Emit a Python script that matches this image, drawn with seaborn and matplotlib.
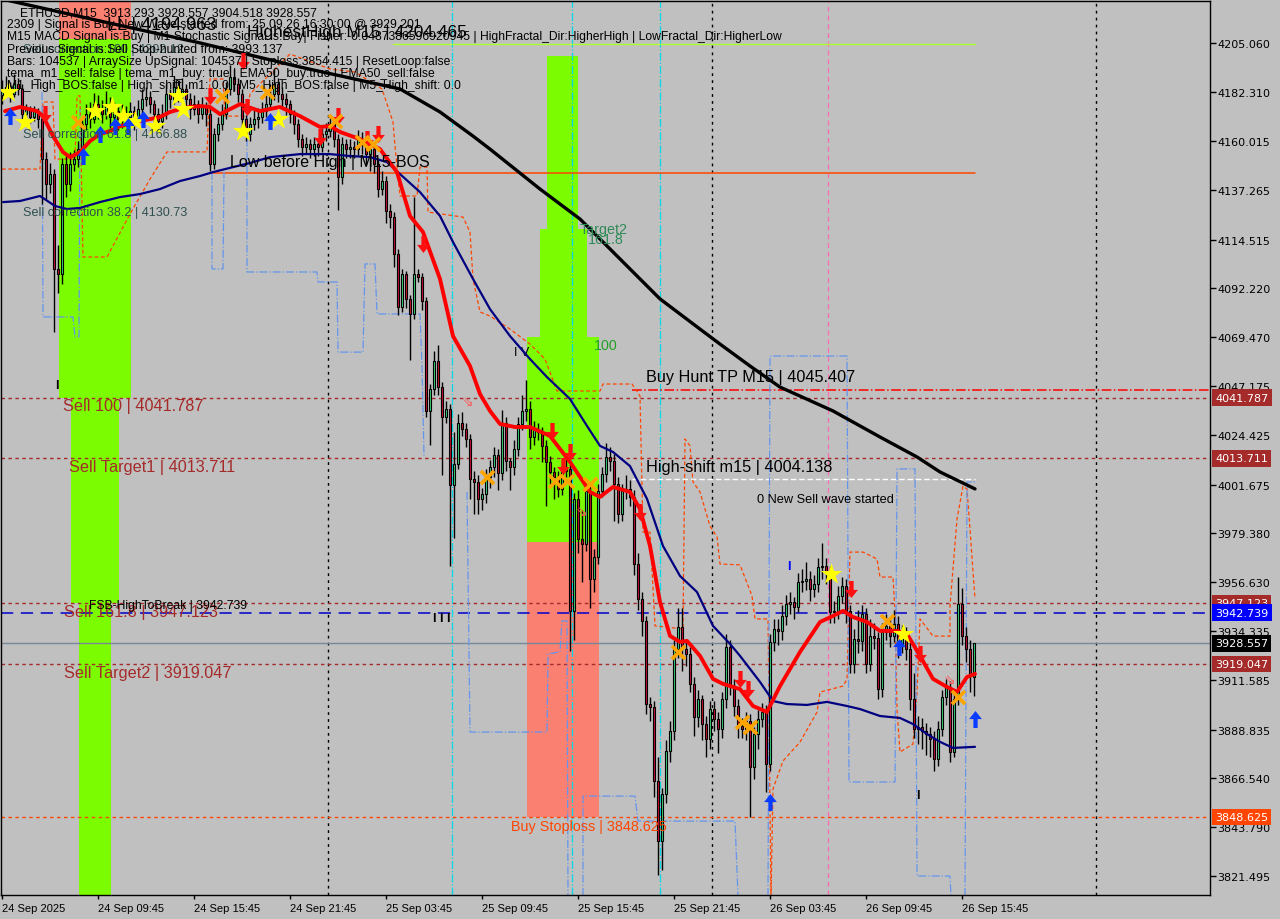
import numpy as np
import pandas as pd
import matplotlib
matplotlib.use("Agg")
import matplotlib.pyplot as plt
import matplotlib.transforms as mtrans
from matplotlib.patches import Rectangle
from matplotlib.path import Path
import seaborn as sns

# ---------------- data ----------------
first_open = 4181.0
last_open = 3913.293

close = [
 4183.9, 4184.8, 4181.6, 4186.2, 4183.9, 4172.3, 4174.6, 4171.0, 4173.7, 4170.0,
 4151.6, 4140.1, 4144.7, 4101.0, 4098.7, 4149.3, 4140.1, 4149.3, 4151.6, 4156.2,
 4167.7, 4172.3, 4170.0, 4176.9, 4174.6, 4172.3, 4176.9, 4171.0, 4173.7, 4170.0,
 4172.3, 4171.0, 4173.7, 4170.0, 4174.6, 4179.3, 4180.2, 4176.9, 4172.3, 4169.1,
 4172.3, 4181.6, 4179.3, 4184.8, 4181.6, 4183.9, 4179.3, 4174.6, 4176.9, 4172.3,
 4175.6, 4172.3, 4149.3, 4163.1, 4167.7, 4172.3, 4183.9, 4189.4, 4186.2, 4181.6,
 4170.0, 4163.1, 4167.7, 4170.0, 4171.0, 4173.7, 4176.9, 4181.6, 4186.2, 4181.6,
 4179.3, 4176.9, 4172.3, 4167.7, 4160.8, 4157.1, 4158.5, 4156.2, 4158.5, 4157.1,
 4163.1, 4164.5, 4167.7, 4160.8, 4143.3, 4158.5, 4156.2, 4157.1, 4156.2, 4160.8,
 4158.5, 4153.9, 4156.2, 4149.3, 4137.8, 4141.5, 4127.7, 4124.9, 4107.9, 4083.5,
 4098.7, 4087.2, 4080.2, 4098.7, 4097.5, 4086.2, 4035.6, 4045.7, 4058.6, 4046.6,
 4032.8, 4036.5, 4001.5, 4011.2, 4030.1, 4027.3, 4022.7, 4004.3, 4002.9, 3995.1,
 3997.3, 4005.2, 4009.8, 4015.3, 4007.0, 4030.1, 4012.5, 4009.8, 4018.1, 4029.6,
 4035.6, 4036.5, 4023.6, 4027.3, 4025.9, 4019.5, 4012.1, 4007.5, 4005.2, 3999.7,
 4007.9, 4008.9, 3943.5, 3995.1, 3976.6, 3974.3, 3998.7, 3958.2, 3968.3, 3998.7,
 4006.6, 4014.4, 4012.5, 4002.0, 3988.1, 3998.7, 3999.7, 3996.0, 3965.1, 3949.0,
 3938.9, 3900.6, 3899.3, 3865.2, 3837.6, 3859.2, 3879.0, 3888.2, 3926.0, 3936.1,
 3926.0, 3923.7, 3909.9, 3894.7, 3903.0, 3891.4, 3884.5, 3898.3, 3893.7, 3889.1,
 3903.0, 3926.9, 3908.9, 3899.7, 3890.5, 3889.1, 3892.8, 3871.6, 3886.8, 3893.7,
 3897.0, 3873.0, 3929.2, 3935.2, 3934.3, 3941.2, 3946.7, 3947.6, 3945.3, 3956.8,
 3957.3, 3958.2, 3953.6, 3955.9, 3963.7, 3964.2, 3961.4, 3943.0, 3943.5, 3950.4,
 3955.0, 3943.5, 3919.1, 3930.6, 3929.5, 3942.1, 3919.1, 3932.0, 3931.0, 3907.5,
 3933.8, 3936.6, 3932.0, 3937.5, 3927.4, 3932.9, 3926.0, 3903.0, 3889.1, 3890.0,
 3888.2, 3886.8, 3884.5, 3875.3, 3889.1, 3903.9, 3908.5, 3878.5, 3903.0, 3946.7,
 3932.0, 3926.0, 3913.5, 3928.557]

high = [
 4188, 4190, 4187, 4191, 4189, 4186, 4177, 4176, 4176, 4175,
 4172, 4155, 4150, 4147, 4112, 4152, 4153, 4155, 4156, 4160,
 4171, 4177, 4178, 4182, 4181, 4179, 4183, 4180, 4178, 4176,
 4177, 4176, 4178, 4176, 4179, 4184, 4185, 4183, 4179, 4175,
 4177, 4186, 4184, 4190, 4188, 4189, 4186, 4182, 4181, 4179,
 4180, 4178, 4175, 4166, 4171, 4177, 4187, 4195, 4193, 4189,
 4184, 4172, 4171, 4174, 4175, 4178, 4181, 4186, 4193, 4189,
 4185, 4182, 4179, 4174, 4170, 4163, 4162, 4161, 4162, 4161,
 4166, 4168, 4172, 4170, 4163, 4162, 4161, 4161, 4160, 4165,
 4164, 4162, 4160, 4159, 4152, 4146, 4144, 4131, 4127, 4110,
 4101, 4100, 4089, 4134, 4101, 4099, 4088, 4048, 4063, 4066,
 4049, 4040, 4039, 4026, 4034, 4035, 4030, 4025, 4008, 4006,
 4000, 4009, 4013, 4019, 4018, 4036, 4033, 4014, 4022, 4033,
 4043, 4050, 4040, 4031, 4030, 4028, 4022, 4015, 4010, 4008,
 4012, 4014, 4011, 3998, 3999, 3990, 4002, 4001, 3972, 4002,
 4010, 4021, 4019, 4016, 4005, 4002, 4006, 4004, 3999, 3970,
 3952, 3941, 3904, 3902, 3876, 3862, 3884, 3893, 3930, 3945,
 3945, 3929, 3927, 3913, 3907, 3905, 3895, 3902, 3902, 3897,
 3906, 3933, 3930, 3912, 3903, 3894, 3897, 3896, 3890, 3898,
 3901, 3900, 3933, 3940, 3940, 3946, 3951, 3952, 3950, 3961,
 3963, 3966, 3962, 3960, 3968, 3975, 3968, 3964, 3948, 3955,
 3959, 3958, 3946, 3935, 3944, 3946, 3945, 3940, 3938, 3934,
 3938, 3942, 3940, 3944, 3941, 3937, 3936, 3929, 3915, 3895,
 3894, 3892, 3890, 3888, 3893, 3907, 3912, 3911, 3906, 3959,
 3954, 3936, 3930, 3928.557]

low = [
 4177, 4181, 4178, 4180, 4181, 4169, 4170, 4168, 4169, 4166,
 4131, 4133, 4136, 4072, 4090, 4094, 4134, 4137, 4146, 4148,
 4154, 4165, 4166, 4168, 4170, 4168, 4170, 4166, 4167, 4165,
 4166, 4167, 4168, 4165, 4167, 4172, 4176, 4173, 4168, 4165,
 4166, 4170, 4175, 4177, 4178, 4179, 4175, 4170, 4172, 4168,
 4170, 4167, 4146, 4147, 4160, 4165, 4170, 4181, 4183, 4178,
 4165, 4160, 4160, 4165, 4166, 4168, 4171, 4175, 4179, 4178,
 4175, 4172, 4168, 4163, 4157, 4153, 4154, 4152, 4153, 4153,
 4155, 4160, 4162, 4157, 4128, 4140, 4152, 4152, 4152, 4153,
 4154, 4149, 4146, 4145, 4134, 4135, 4122, 4120, 4102, 4080,
 4081, 4083, 4059, 4078, 4095, 4082, 4033, 4020, 4043, 4043,
 4006, 4030, 3964, 3977, 4009, 4024, 4019, 3995, 3988, 3988,
 3990, 3993, 4000, 4005, 3999, 4004, 4008, 3999, 4006, 4015,
 4027, 4031, 4018, 4020, 4022, 4012, 3992, 4002, 3995, 3996,
 3997, 4005, 3925, 3930, 3970, 3957, 3971, 3945, 3952, 3965,
 3996, 4003, 4008, 3985, 3984, 3985, 3995, 3992, 3960, 3944,
 3932, 3896, 3893, 3858, 3822, 3824, 3855, 3874, 3884, 3922,
 3916, 3918, 3906, 3886, 3890, 3884, 3876, 3880, 3888, 3878,
 3885, 3899, 3905, 3895, 3885, 3885, 3884, 3848.6, 3866, 3880,
 3890, 3860, 3870, 3925, 3928, 3930, 3937, 3942, 3940, 3943,
 3952, 3953, 3948, 3950, 3952, 3958, 3956, 3938, 3938, 3940,
 3947, 3938, 3915, 3915, 3924, 3925, 3915, 3916, 3926, 3903,
 3904, 3930, 3927, 3929, 3922, 3924, 3921, 3898, 3885, 3882,
 3880, 3877, 3876, 3870, 3872, 3886, 3900, 3874, 3876, 3900,
 3928, 3920, 3906, 3904.518]

time_labels = ["24 Sep 2025", "24 Sep 09:45", "24 Sep 15:45", "24 Sep 21:45",
               "25 Sep 03:45", "25 Sep 09:45", "25 Sep 15:45", "25 Sep 21:45",
               "26 Sep 03:45", "26 Sep 09:45", "26 Sep 15:45"]
time_label_bars = [0, 24, 48, 72, 96, 120, 144, 168, 192, 216, 240]

price_ticks = [4205.060, 4182.310, 4160.015, 4137.265, 4114.515, 4092.220, 4069.470,
               4047.175, 4024.425, 4001.675, 3979.380, 3956.630, 3934.335, 3911.585,
               3888.835, 3866.540, 3843.790, 3821.495]

# indicator lines (bar index, price)
ema_fast = [(0.75, 4173.7), (4.5, 4175.6), (8.75, 4173.7), (10.25, 4171.4), (12.75, 4162.2),
            (15.25, 4154.8), (17, 4152.5), (19.5, 4154.8), (22, 4159.9), (24.5, 4163.1),
            (27, 4164.5), (29.5, 4166.8), (32, 4167.7), (34.5, 4169.1), (37, 4170.0),
            (39.5, 4171.0), (42, 4173.3), (44.5, 4174.6), (47, 4175.6), (49.5, 4176.0),
            (52, 4175.6), (54.5, 4172.3), (57, 4174.6), (59.5, 4176.9), (64.5, 4173.7),
            (69.5, 4175.6), (74.5, 4171.4), (79.5, 4166.4), (82, 4166.8), (84.5, 4164.1),
            (89.5, 4160.8), (94.5, 4156.2), (98.75, 4145.6), (102, 4125.4), (105.25, 4118.0),
            (109.5, 4096.4), (112.75, 4070.1), (117, 4056.3), (119.5, 4043.4), (122, 4035.6),
            (124.5, 4029.6), (128.25, 4028.2), (132, 4028.2), (137, 4024.1), (142, 4012.1),
            (147, 3998.3), (149.5, 3996.0), (152.75, 4000.6), (157, 3998.3), (159.5, 3990.5),
            (162, 3973.4), (164.5, 3947.6), (167, 3932.0), (169.5, 3929.2), (171.25, 3929.7),
            (174.5, 3922.8), (177.75, 3912.2), (180.25, 3909.9), (184.5, 3907.5), (187.75, 3899.7),
            (191.25, 3897.0), (194.5, 3908.9), (199.5, 3924.6), (204.5, 3938.4), (207.75, 3941.2),
            (210.25, 3943.5), (212.75, 3940.7), (216.25, 3938.4), (219.5, 3934.3), (223.75, 3934.3),
            (226.25, 3932.9), (229.5, 3922.8), (232.75, 3912.2), (236.25, 3908.5), (238.75, 3906.2),
            (241.25, 3913.1), (243.25, 3914.5)]

ema50 = [(0.25, 4131.8), (4.5, 4132.3), (9.5, 4134.6), (13.25, 4130.0), (16.25, 4128.6),
         (19.5, 4129.1), (24.5, 4131.8), (29.5, 4134.1), (34.5, 4135.5), (39.5, 4137.8),
         (44.5, 4141.5), (49.5, 4143.8), (52.75, 4145.6), (57.75, 4147.9), (62, 4149.8),
         (67, 4152.5), (74.5, 4153.9), (82, 4153.9), (87, 4153.0), (92, 4152.5),
         (96.25, 4150.2), (99.5, 4144.7), (104.5, 4136.4), (109.5, 4125.4), (112.75, 4113.4),
         (117.75, 4096.4), (122, 4082.5), (127, 4070.1), (132, 4059.5), (136.25, 4051.2),
         (142, 4041.1), (146.25, 4028.7), (149.5, 4019.5), (152.75, 4016.7), (157, 4010.2),
         (161.25, 3995.1), (165.25, 3973.4), (169.5, 3959.6), (173.75, 3952.2), (177.75, 3936.6),
         (182, 3928.3), (184.5, 3922.8), (189.5, 3910.8), (192.75, 3902.0), (196.25, 3900.6),
         (201.25, 3900.2), (206.25, 3901.6), (211.25, 3899.7), (214.5, 3898.3), (219.5, 3895.1),
         (224.5, 3894.2), (227.75, 3891.4), (231.25, 3886.8), (234.5, 3883.2), (237.75, 3880.4),
         (243.25, 3880.9)]

ema200 = [(0, 4225.3), (24.5, 4215.2), (49.5, 4205.1), (74.5, 4194.0), (99.5, 4183.9),
          (109.5, 4173.3), (117.75, 4162.2), (122, 4156.2), (134.5, 4137.8), (144.5, 4124.0),
          (154.5, 4105.6), (164.5, 4087.2), (174.5, 4073.3), (179.5, 4066.4), (187, 4056.3),
          (194.5, 4046.6), (207.75, 4035.6), (219.5, 4023.6), (228.75, 4014.4), (234.5, 4007.5),
          (243.25, 3999.7)]

fractal_high = [(0, 4147.0), (9.5, 4147.0), (10.25, 4177.9), (12.75, 4177.9), (13.25, 4151.6),
                (18.25, 4151.6), (18.75, 4180.7), (19.5, 4180.7), (20.25, 4106.5), (26.25, 4106.5),
                (32, 4126.3), (37, 4142.4), (41.25, 4154.9), (51.25, 4154.9), (52, 4188.5),
                (55.25, 4188.5), (55.75, 4171.4), (61.25, 4171.4), (62, 4181.6), (72, 4200.0),
                (82, 4193.1), (88.25, 4191.7), (95, 4183.9), (97.75, 4168.7), (98.25, 4157.6),
                (99.5, 4134.6), (103.75, 4134.6), (104.5, 4147.9), (106.25, 4147.9), (106.5, 4127.2),
                (115.25, 4124.9), (117, 4118.0), (117.75, 4096.4), (119.5, 4081.2), (122, 4079.3),
                (127, 4073.3), (132, 4066.4), (135.75, 4059.5), (138.75, 4044.8), (149.5, 4044.8),
                (150.25, 4048.0), (157.5, 4048.0), (159.5, 4042.5), (160.25, 3979.8), (162, 3979.8),
                (163.25, 3936.6), (170.25, 3935.2), (170.75, 4022.7), (172, 4019.5), (172.75, 4002.9),
                (174.5, 3998.3), (177, 3982.6), (178.75, 3977.6), (179.5, 3965.1), (184.5, 3964.7),
                (187.5, 3950.4), (188.25, 3939.8), (191.5, 3939.8), (192.25, 3812.2), (192.75, 3861.5),
                (195.25, 3874.4), (199.5, 3883.1), (203.75, 3896.9), (204.5, 3906.1), (210.25, 3908.9),
                (211.25, 3912.1), (212, 3970.6), (215.25, 3970.6), (218.75, 3967.4), (219.5, 3959.1),
                (222.75, 3959.1), (223.25, 3943.0), (223.75, 3898.3), (224.5, 3878.5), (227.75, 3882.2),
                (228.75, 3906.1), (229.5, 3939.8), (232.75, 3931.9), (237, 3931.9), (237, 3945.8),
                (238.75, 3985.8), (240.25, 4001.0), (241.25, 3999.6), (242, 3981.2), (243.25, 3949.0)]

fractal_low_segments = [
    [(10, 4182.5), (10.25, 4078.9), (17.75, 4078.9), (18.25, 4069.7), (19.25, 4069.7), (19.5, 4174.7)],
    [(52.5, 4145.7), (52.5, 4101.0), (55.25, 4101.0), (55.5, 4145.7)],
    [(61.25, 4179.3), (61.25, 4099.6), (78.75, 4099.6), (79, 4095.0), (83.75, 4095.0), (84, 4062.7),
     (90.25, 4062.7), (90.75, 4103.3), (93.25, 4103.3), (93.75, 4080.3), (104.5, 4080.3),
     (105, 4056.3), (105.5, 4014.8)],
    [(116.25, 3998.3), (117, 3887.7), (136.25, 3887.7), (136.5, 3923.7), (139.5, 3924.6),
     (140, 3938.9), (141.25, 3938.9), (141.5, 3812.2)],
    [(145.25, 3812.2), (145.25, 3858.2), (158.25, 3858.2), (159, 3846.7), (183.25, 3846.7), (184, 3812.2)],
    [(191.5, 3812.2), (192, 4060.9), (211.25, 4060.9), (211.75, 3864.7), (223.25, 3864.7),
     (223.75, 4008.9), (228.25, 4008.9), (228.75, 3821.4), (237, 3821.4), (237.25, 3812.2)],
    [(240.75, 3812.2), (241.25, 4002.9), (243.25, 4002.9)],
]

# signal markers
star_i = [1.5, 5.75, 23.25, 27.5, 30.25, 33.25, 38.25, 44, 45.25, 60.25, 69, 207.25, 225.25]
star_p = [4182.5, 4168.7, 4173.7, 4175.6, 4171.4, 4169.1, 4166.8, 4180.6, 4174.6, 4164.5,
          4170.0, 3960.5, 3932.9]
buy_arrow_i = [2, 20.25, 24.5, 28.25, 31.5, 35.25, 67, 192, 224.25, 243.25]
buy_arrow_p = [4171.4, 4153.0, 4163.1, 4166.8, 4166.8, 4170.0, 4169.1, 3855.5, 3926.9, 3893.7]
sell_arrow_i = [10.75, 52, 60.25, 61.25, 79.5, 84, 91.25, 94, 105.25, 137.5, 140.25, 142,
                159.5, 184.5, 186.5, 212.25, 229.5]
sell_arrow_p = [4172.4, 4180.6, 4196.8, 4175.6, 4161.8, 4171.4, 4160.8, 4163.1, 4112.5, 4026.4,
                4010.2, 4016.7, 3989.1, 3912.1, 3907.5, 3953.6, 3923.7]
cross_i = [19, 55, 66.25, 83.25, 90, 92.75, 121.25, 138.25, 141.25, 147, 169, 185, 187, 221.25, 239]
cross_p = [4168.7, 4180.6, 4182.5, 4169.1, 4159.5, 4158.5, 4005.2, 4003.3, 4003.3, 4002.0,
           3924.6, 3892.3, 3890.0, 3938.9, 3903.9]
hollow_i = [116.5, 145, 237]
hollow_p = [4040.2, 3989.5, 3912.1]

# zones (bar from, bar to, price low, price high, colour)
zone_x0 = [14.25, 14.25, 17.25, 19.25, 136.25, 134.5, 131.25, 131.25]
zone_x1 = [32.25, 32.25, 29.25, 27.25, 144.0, 146.25, 149.25, 149.25]
zone_lo = [4206.9, 4041.787, 3947.123, 3800.0, 4119.4, 4069.7, 3975.2, 3848.625]
zone_hi = [4240.0, 4206.9, 4041.787, 3947.123, 4199.1, 4119.4, 4069.7, 3975.2]
zone_col = ["#fa8072", "#7cfc00", "#7cfc00", "#7cfc00", "#7cfc00", "#7cfc00", "#7cfc00", "#fa8072"]

# levels
sell_levels = [4041.787, 4013.711, 3947.123, 3919.047]
sell_names = ["Sell 100", "Sell Target1", "Sell 161.8", "Sell Target2"]
fsb_level = 3942.739
current_price = 3928.557
buy_stoploss = 3848.625
buy_hunt_tp = 4045.407
high_shift = 4004.138
low_before_high = 4145.0
highest_high = 4204.465
ll_value = 4194.963

sep_bars = [81.5, 177.5, 273.5]
cyan_bars = [112.5, 142.5, 164.5]
pink_bars = [206.5]

# ---------------- figure ----------------
BG = "#c0c0c0"
W, H = 1280, 920
sns.set_theme(style="white")
plt.rcParams["font.family"] = ["Liberation Sans", "DejaVu Sans"]

fig = plt.figure(figsize=(12.8, 9.2), dpi=100, facecolor=BG)
ax = fig.add_axes([1 / W, (920 - 896) / H, (1210 - 1) / W, (896 - 2) / H])
ax.set_facecolor(BG)
ax.set_xlim(-0.25, 302)
ax.set_ylim(3812.66, 4224.41)

def ptxt(x, y, s, **kw):
    kw.setdefault("va", "center")
    kw.setdefault("ha", "left")
    fig.text(x / W, 1 - y / H, s, **kw)

# zones
for x0, x1, lo, hi, c in zip(zone_x0, zone_x1, zone_lo, zone_hi, zone_col):
    ax.add_patch(Rectangle((x0, lo), x1 - x0, hi - lo, facecolor=c, edgecolor="none", zorder=0.5))

# vertical lines
for b in sep_bars:
    ax.axvline(b, color="black", lw=1, ls=(0, (2, 3)), zorder=1)
for b in cyan_bars:
    ax.axvline(b, color="#00d8e8", lw=0.9, ls="-.", zorder=1)
for b in pink_bars:
    ax.axvline(b, color="#ff6eb4", lw=0.9, ls=(0, (4, 3)), zorder=1)

# horizontal levels
for lv in sell_levels:
    ax.axhline(lv, color="#a52a2a", lw=1, ls=(0, (2.5, 2.5)), zorder=1.2)
ax.axhline(fsb_level, color="#0000cd", lw=1.1, ls=(0, (8, 5)), zorder=1.2)
ax.axhline(current_price, color="#778899", lw=1, zorder=1.2)
ax.axhline(buy_stoploss, color="#ff4500", lw=1, ls=(0, (2.5, 2.5)), zorder=1.2)
ax.plot([157.5, 302], [buy_hunt_tp, buy_hunt_tp], color="#ff0000", lw=1.1, ls="-.", zorder=1.2)
ax.plot([52.5, 243.25], [low_before_high] * 2, color="#ff4500", lw=1.1, zorder=1.2)
ax.plot([157.5, 243.25], [high_shift] * 2, color="white", lw=1, ls=(0, (4, 2)), zorder=1.2)
ax.plot([97.75, 243.25], [highest_high] * 2, color="#adff2f", lw=1, zorder=1.2)

# fractal channel lines
fh = pd.DataFrame(fractal_high, columns=["bar", "price"])
ax.plot(fh["bar"], fh["price"], color="#ff4500", lw=0.9, ls=(0, (3, 2)), zorder=2)
for seg in fractal_low_segments:
    s = pd.DataFrame(seg, columns=["bar", "price"])
    ax.plot(s["bar"], s["price"], color="#6495ed", lw=0.9, ls="-.", zorder=2)

# candles
c = np.array(close, dtype=float)
o = np.concatenate([[first_open], c[:-1]])
o[-1] = last_open
hi_ = np.array(high, dtype=float)
lo_ = np.array(low, dtype=float)
idx = np.arange(len(c))
ax.vlines(idx, lo_, hi_, colors="black", lw=1, zorder=3)
body_bottom = np.minimum(o, c)
body_h = np.maximum(np.abs(c - o), 0.35)
cols = np.where(c >= o, "#3cd47a", "#c8102e")
ax.bar(idx, body_h, bottom=body_bottom, width=0.72, color=cols, edgecolor="black",
       linewidth=0.8, zorder=4)

# moving averages via seaborn
for pts, col, lw in [(ema200, "black", 2.4), (ema50, "#000080", 1.6), (ema_fast, "#ff0000", 2.8)]:
    d = pd.DataFrame(pts, columns=["bar", "price"])
    sns.lineplot(data=d, x="bar", y="price", color=col, lw=lw, ax=ax, sort=False,
                 estimator=None, zorder=6)

# markers
up_path = Path([(0, 1), (-0.75, 0.05), (-0.25, 0.05), (-0.25, -1), (0.25, -1), (0.25, 0.05),
                (0.75, 0.05), (0, 1)], closed=True)
down_path = Path([(0, -1), (-0.75, -0.05), (-0.25, -0.05), (-0.25, 1), (0.25, 1), (0.25, -0.05),
                  (0.75, -0.05), (0, -1)], closed=True)
sns.scatterplot(x=star_i, y=star_p, marker="*", s=260, color="#ffff00", linewidth=0, ax=ax, zorder=8)
sns.scatterplot(x=buy_arrow_i, y=buy_arrow_p, marker=up_path, s=150, color="#0a3cff",
                linewidth=0, ax=ax, zorder=8)
sns.scatterplot(x=sell_arrow_i, y=sell_arrow_p, marker=down_path, s=150, color="#ff1010",
                linewidth=0, ax=ax, zorder=8)
ax.scatter(cross_i, cross_p, marker="x", s=90, c="#ffa500", linewidths=2.6, zorder=8)
for i, p in zip(hollow_i, hollow_p):
    ax.text(i, p, "\u21d8", color="#ff5a5a", fontsize=10, ha="center", va="center",
            family="DejaVu Sans", zorder=8)

# small glyph signals
ax.text(13.75, 4047.5, "I", fontsize=9, color="black", weight="bold", ha="center", va="center")
ax.text(110.0, 3940.3, "I I I", fontsize=9, color="black", weight="bold", ha="center", va="center")
ax.text(130.0, 4062.7, "I V", fontsize=9, color="black", ha="center", va="center")
ax.text(196.75, 3964.2, "I", fontsize=9, color="#0000ff", weight="bold", ha="center", va="center")
ax.text(229.0, 3858.7, "I", fontsize=9, color="black", weight="bold", ha="center", va="center")

# axes styling
for sp in ax.spines.values():
    sp.set_color("black")
    sp.set_linewidth(1)
ax.yaxis.tick_right()
ax.set_yticks(price_ticks)
ax.set_yticklabels([f"{v:.3f}" for v in price_ticks], family="DejaVu Sans")
ax.set_xticks(time_label_bars)
ax.set_xticklabels(time_labels, ha="left")
ax.tick_params(axis="y", right=True, left=False, length=4, width=1, pad=1.5, labelsize=8,
               colors="black")
ax.tick_params(axis="x", bottom=True, length=3, width=1, pad=3, labelsize=8, colors="black")
ax.set_xlabel("")
ax.set_ylabel("")
ax.grid(False)

# coloured price boxes on the right axis
trans = mtrans.blended_transform_factory(ax.transAxes, ax.transData)
box_vals = [4041.787, 4013.711, 3947.123, 3942.739, 3928.557, 3919.047, 3848.625]
box_cols = ["#a52a2a", "#a52a2a", "#a52a2a", "#0000ff", "#000000", "#a52a2a", "#ff4500"]
for v, col in zip(box_vals, box_cols):
    ax.text(1.0 + 5 / 1209, v, f"{v:.3f}", transform=trans, ha="left", va="center",
            fontsize=8, color="white", clip_on=False, zorder=10, family="DejaVu Sans",
            bbox=dict(boxstyle="square,pad=0.3", fc=col, ec="none"))

# level labels
big = 11.7
for name, lv, x in zip(sell_names, sell_levels, [63, 69, 64, 64]):
    y = {4041.787: 407, 4013.711: 468, 3947.123: 613, 3919.047: 674}[lv]
    ptxt(x, y, f"{name} | {lv:.3f}", fontsize=big, color="#a52a2a")
ptxt(89, 606, f"FSB-HighToBreak | {fsb_level:.3f}", fontsize=8.7, color="black")
ptxt(511, 827, f"Buy Stoploss | {buy_stoploss:.3f}", fontsize=10.4, color="#ff4500")
ptxt(646, 378, f"Buy Hunt TP M15 | {buy_hunt_tp:.3f}", fontsize=big, color="black")
ptxt(646, 468, f"High-shift m15 | {high_shift:.3f}", fontsize=big, color="black")
ptxt(230, 162, "Low before High | M15-BOS", fontsize=11.5, color="black")
ptxt(757, 500, "0 New Sell wave started", fontsize=9.2, color="black")
ptxt(23, 135, "Sell correction 61.8 | 4166.88", fontsize=9.1, color="#2f4f4f")
ptxt(23, 213, "Sell correction 38.2 | 4130.73", fontsize=9.1, color="#2f4f4f")
ptxt(23, 49.5, "Sell correction 100 | 4202.12", fontsize=9.1, color="#2f4f4f")
ptxt(580, 230, "Target2", fontsize=10.3, color="#2e8b57")
ptxt(588, 240, "161.8", fontsize=10.3, color="#2e8b57")
ptxt(594, 346, "100", fontsize=10.3, color="#22a022")

# header text
hdr = 8.7
ptxt(20, 13, "ETHUSD,M15  3913.293 3928.557 3904.518 3928.557", fontsize=hdr, color="black")
ptxt(7, 25, "2309 | Signal is Buy-New Wave started from: 25.09.26 16:30:00 @ 3929.201",
     fontsize=hdr, color="black")
ptxt(7, 37, "M15 MACD Signal is:Buy | M1 Stochastic Signal is:Buy| Fisher:-0.0487386596920945 | "
     "HighFractal_Dir:HigherHigh | LowFractal_Dir:HigherLow", fontsize=hdr, color="black")
ptxt(7, 49.5, "Previous Signal is:Sell Stop-hunted from: 3993.137", fontsize=hdr, color="black")
ptxt(7, 61.5, "Bars: 104537 | ArraySize UpSignal: 104537 | Stoploss:3854.415 | ResetLoop:false",
     fontsize=hdr, color="black")
ptxt(7, 73.5, "tema_m1_sell: false | tema_m1_buy: true | EMA50_buy:true | EMA50_sell:false",
     fontsize=hdr, color="black")
ptxt(7, 85.5, "M1_High_BOS:false | High_shift_m1: 0.0 | M5_High_BOS:false | M5_High_shift: 0.0",
     fontsize=hdr, color="black")
ptxt(107, 25, f"LL | {ll_value:.3f}", fontsize=13, color="black")
ptxt(247, 32, f"HighestHigh M15 | {highest_high:.3f}", fontsize=12.5, color="black")

fig.savefig("out.png", dpi=100, facecolor=BG)
